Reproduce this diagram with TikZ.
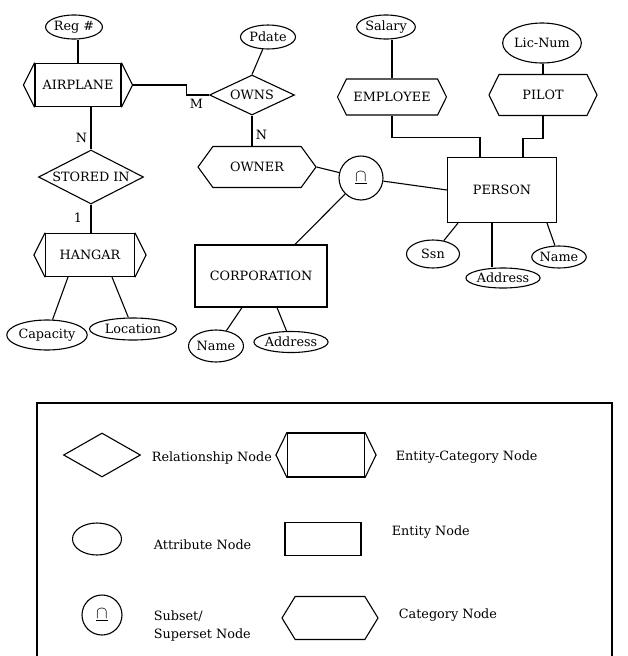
\documentclass[tikz,border=0pt]{standalone}
\usepackage{fontspec}
\setmainfont{DejaVu Serif}
\usetikzlibrary{shapes.geometric,shapes.symbols}
\tikzset{
    entity/.style={
           rectangle,
           draw=black,
           minimum width=109pt,
           minimum height=65pt,
           inner sep=2pt,
           text centered,
           },
    category/.style={
           signal,
           signal to=west and east,
           signal pointer angle=120,
           draw=black,
           minimum width=109pt,
           minimum height=38pt,
           inner sep=2pt,
           },
    entcat/.style={
           rectangle,
           draw=black,
           minimum width=86pt,
           minimum height=43pt,
           inner sep=2pt,
           append after command={
               (\tikzlastnode.north west) edge[line cap=round] ([xshift=-11pt]\tikzlastnode.west)
               (\tikzlastnode.south west) edge[line cap=round] ([xshift=-11pt]\tikzlastnode.west)
               (\tikzlastnode.north east) edge[line cap=round] ([xshift=11pt]\tikzlastnode.east)
               (\tikzlastnode.south east) edge[line cap=round] ([xshift=11pt]\tikzlastnode.east)
           },
           },
    relation/.style={
           diamond,
           aspect=2,
           draw=black,
           inner sep=0pt,
           minimum width=85pt,
           minimum height=40pt,
           },
    attribute/.style={
           ellipse,
           draw=black,
           inner sep=0pt,
           minimum width=55pt,
           minimum height=24pt,
           },
    subset/.style={
           circle,
           draw=black,
           inner sep=0pt,
           minimum size=44pt,
           },
    legtext/.style={
           anchor=west,
           align=left,
           },
}
\newcommand{\subsetsym}{{\fontsize{19}{19}\selectfont$\underline{\cap}$}}

\begin{document}
\begin{tikzpicture}[x=1pt, y=-1pt, line width=1.1pt, font=\fontsize{12.8}{18}\selectfont]
    \useasboundingbox (0,0) rectangle (628,656);

    % Airplane side: entity-category with its relationship to the hangar
    \node[entcat] (airplane) at (78,85) {AIRPLANE};
    \node[attribute, above of=airplane, node distance=58pt, xshift=-4pt, anchor=center] (regno) {Reg \#};
    \node[relation, minimum width=105pt, minimum height=54pt,
    below of=airplane, node distance=92pt, xshift=13pt, anchor=center] (stored) {STORED IN};
    \node[entcat, minimum width=89pt,
    below of=stored, node distance=78pt, xshift=-1pt, anchor=center] (hangar) {HANGAR};
    \node[attribute, minimum width=77pt, minimum height=30pt,
    below of=hangar, node distance=80pt, xshift=-43pt, anchor=center] (capacity) {Capacity};
    \node[attribute, minimum width=87pt, minimum height=22pt,
    below of=hangar, node distance=74pt, xshift=43pt, anchor=center] (location) {Location};

    % Owns relationship and the owner category
    \node[relation, right of=airplane, node distance=174pt, yshift=-10pt, anchor=center] (owns) {OWNS};
    \node[attribute, above of=owns, node distance=58pt, xshift=16pt, anchor=center] (pdate) {Pdate};
    \node[category, minimum width=118pt, minimum height=41pt, signal pointer angle=108,
    below of=owns, node distance=72pt, xshift=5pt, anchor=center] (owner) {OWNER};
    \node[subset, right of=owner, node distance=104pt, yshift=-11pt, anchor=center] (subset) {\subsetsym};
    \node[entity, minimum width=132pt, minimum height=62pt,
    below of=owner, node distance=109pt, xshift=4pt, anchor=center] (corporation) {CORPORATION};
    \node[attribute, minimum height=32pt,
    below of=corporation, node distance=70pt, xshift=-45pt, anchor=center] (cname) {Name};
    \node[attribute, minimum width=72pt, minimum height=21pt,
    below of=corporation, node distance=66pt, xshift=30pt, anchor=center] (caddress) {Address};

    % Person with its categories
    \node[entity, right of=subset, node distance=141pt, yshift=-12pt, anchor=center] (person) {PERSON};
    \node[category, minimum height=36pt, signal pointer angle=127,
    above of=person, node distance=93pt, xshift=-110pt, anchor=center] (employee) {EMPLOYEE};
    \node[attribute, above of=employee, node distance=70pt, xshift=-6pt, anchor=center] (salary) {Salary};
    \node[category, minimum width=108pt, minimum height=41pt, signal pointer angle=128,
    above of=person, node distance=95pt, xshift=41pt, anchor=center] (pilot) {PILOT};
    \node[attribute, minimum width=76pt, minimum height=40pt,
    above of=pilot, node distance=52pt, xshift=-1pt, anchor=center] (licnum) {Lic-Num};
    \node[attribute, minimum width=53pt, minimum height=28pt,
    below of=person, node distance=64pt, xshift=-69pt, anchor=center] (ssn) {Ssn};
    \node[attribute, minimum width=69pt, minimum height=20pt,
    below of=person, node distance=88pt, xshift=1pt, anchor=center] (paddress) {Address};
    \node[attribute, minimum width=48pt, minimum height=22pt,
    below of=person, node distance=67pt, xshift=57pt, anchor=center] (pname) {Name};

    % draw the connectors and the cardinalities
    \path
        (airplane.north) edge (airplane.north |- regno.south)
        (airplane.south -| stored.north) edge
            node[left, pos=.72] (lbln1) {N}
        (stored.north)
        (stored.south) edge
            node[left, pos=.45, xshift=-5pt] (lblone) {1}
        (stored.south |- hangar.north)
        ([xshift=-22pt]hangar.south) edge (capacity)
        ([xshift=22pt]hangar.south) edge (location)
        (pdate) edge (owns.north)
        (owns.south) edge
            node[right, pos=.65] (lbln2) {N}
        (owns.south |- owner.north)
        (owner.east) edge (subset)
        (subset) edge (person.west)
        (subset) edge ([xshift=34pt]corporation.north)
        ([xshift=-19pt]corporation.south) edge (cname)
        ([xshift=16pt]corporation.south) edge (caddress)
        (employee.north) edge (employee.north |- salary.south)
        (pilot.north) edge (pilot.north |- licnum.south)
        ([xshift=-44pt]person.south) edge (ssn)
        ([xshift=-10pt]person.south) edge ([xshift=-10pt]person.south |- paddress.north)
        ([xshift=45pt]person.south) edge (pname)
        ;
    \draw ([xshift=11pt]airplane.east) -- ++(54,0) |- node[below, pos=.72] (lblm) {M} (owns.west);
    \draw (employee.south) -- ++(0,22) -| ([xshift=-22pt]person.north);
    \draw (pilot.south) -- ++(0,22) -| ([xshift=21pt]person.north);

    % Legend
    \draw (37,660) -- (37,403) -- (612,403) -- (612,660);
    \node[relation, minimum width=77pt, minimum height=44pt] (legrel) at (102,455) {};
    \node[attribute, minimum width=49pt, minimum height=32pt,
    below of=legrel, node distance=84pt, xshift=-5pt, anchor=center] (legattr) {};
    \node[subset, minimum size=40pt,
    below of=legattr, node distance=76pt, xshift=5pt, anchor=center] (legsubset) {\subsetsym};
    \node[entcat, minimum width=77pt, minimum height=44pt,
    right of=legrel, node distance=224pt, anchor=center] (legentcat) {};
    \node[entity, minimum width=76pt, minimum height=33pt,
    right of=legattr, node distance=226pt, anchor=center] (legentity) {};
    \node[category, minimum width=96pt, minimum height=43pt, signal pointer angle=117,
    right of=legsubset, node distance=228pt, yshift=-3pt, anchor=center] (legcat) {};

    \node[right of=legrel, node distance=46pt, yshift=-3pt, legtext] (txtrel) {Relationship Node};
    \node[right of=legentcat, node distance=66pt, yshift=-2pt, legtext] (txtentcat) {Entity-Category Node};
    \node[right of=legattr, node distance=53pt, yshift=-6pt, legtext] (txtattr) {Attribute Node};
    \node[right of=legentity, node distance=65pt, yshift=7pt, legtext] (txtentity) {Entity Node};
    \node[right of=legsubset, node distance=48pt, yshift=-11pt, legtext] (txtsubset) {Subset/\\Superset Node};
    \node[right of=legcat, node distance=65pt, yshift=3pt, legtext] (txtcat) {Category Node};
\end{tikzpicture}
\end{document}
